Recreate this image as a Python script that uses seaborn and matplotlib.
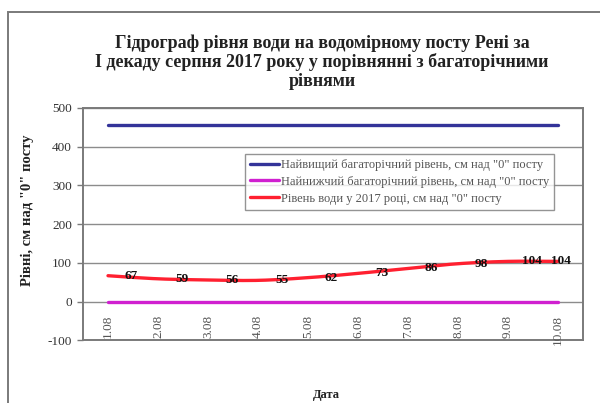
import numpy as np
import pandas as pd
import matplotlib
matplotlib.use("Agg")
import matplotlib.pyplot as plt
from matplotlib.patches import Rectangle
import seaborn as sns

# Dates of the first ten-day period of August
dates = ["1.08", "2.08", "3.08", "4.08", "5.08", "6.08", "7.08", "8.08", "9.08", "10.08"]
# Water level in 2017, cm above gauge zero
level_2017 = [67, 59, 56, 55, 62, 73, 86, 98, 104, 104]
# Long-term extremes, cm above gauge zero
level_max = [456] * 10
level_min = [-2] * 10

labels = [
    "Найвищий багаторічний рівень, см над \"0\" посту",
    "Найнижчий багаторічний рівень, см над \"0\" посту",
    "Рівень води у 2017 році, см над \"0\" посту",
]
title = ("Гідрограф рівня води на водомірному посту Рені за\n"
         "І декаду серпня 2017 року у порівнянні з багаторічними\n"
         "рівнями")

sns.set_theme(style="white")
plt.rcParams["font.family"] = ["Liberation Serif", "DejaVu Serif"]

x = np.arange(len(dates))


def catmull_rom(xs, ys, n=20):
    # smooth curve passing through every data point
    xs = np.asarray(xs, float)
    ys = np.asarray(ys, float)
    px = np.concatenate([[2 * xs[0] - xs[1]], xs, [2 * xs[-1] - xs[-2]]])
    py = np.concatenate([[2 * ys[0] - ys[1]], ys, [2 * ys[-1] - ys[-2]]])
    out_x, out_y = [], []
    for i in range(1, len(px) - 2):
        t = np.linspace(0, 1, n, endpoint=False)
        for arr, out in ((px, out_x), (py, out_y)):
            p0, p1, p2, p3 = arr[i - 1], arr[i], arr[i + 1], arr[i + 2]
            out.extend(0.5 * ((2 * p1) + (-p0 + p2) * t
                              + (2 * p0 - 5 * p1 + 4 * p2 - p3) * t ** 2
                              + (-p0 + 3 * p1 - 3 * p2 + p3) * t ** 3))
    out_x.append(xs[-1])
    out_y.append(ys[-1])
    return np.array(out_x), np.array(out_y)


fig = plt.figure(figsize=(6.0, 4.03), dpi=100)
fig.patch.set_facecolor("white")

# chart area frame
fig.add_artist(Rectangle((8 / 600, -0.05), 1.0, 1 - 12 / 403 + 0.05,
                         transform=fig.transFigure, fill=False,
                         edgecolor="#7a7a7a", linewidth=1.4))

ax = fig.add_axes([83 / 600, 1 - 340.4 / 403, 500 / 600, 232.4 / 403])
ax.set_facecolor("white")

for v in range(-100, 501, 100):
    ax.axhline(v, color="#8c8c8c", linewidth=1.0, zorder=0)

sns.lineplot(x=x, y=level_max, ax=ax, color="#333399", linewidth=2.4,
             label=labels[0], zorder=3)
sns.lineplot(x=x, y=level_min, ax=ax, color="#D020D0", linewidth=2.4,
             label=labels[1], zorder=3)
sx, sy = catmull_rom(x, level_2017)
sns.lineplot(x=sx, y=sy, ax=ax, color="#FF2030", linewidth=2.4,
             label=labels[2], zorder=4, sort=False)

for i, v in enumerate(level_2017):
    dx = 2 if i == len(level_2017) - 1 else 17
    ax.annotate(str(v), (x[i], v), xytext=(dx, 0), textcoords="offset points",
                ha="center", va="center", fontsize=9.5, fontweight="bold",
                color="#111111", zorder=5)

ax.set_xlim(-0.5, len(dates) - 0.5)
ax.set_ylim(-100, 500)
ax.set_yticks(range(-100, 501, 100))
ax.set_yticklabels([str(v) for v in range(-100, 501, 100)], fontsize=9.5,
                   color="#333333")
ax.tick_params(axis="y", direction="out", length=4, width=1, color="#7a7a7a",
               pad=4, left=True)
ax.set_xticks([])
for i, d in enumerate(dates):
    ax.text(x[i], -34, d, rotation=90, ha="center", va="top", fontsize=9.5,
            color="#555555", zorder=5)

for s in ax.spines.values():
    s.set_color("#7a7a7a")
    s.set_linewidth(1.4)

ax.set_xlabel("")
ax.set_ylabel("")
fig.text(27.5 / 600, 1 - 210 / 403, "Рівні, см над \"0\" посту", rotation=90,
         ha="center", va="center", fontsize=10.5, fontweight="bold",
         color="#222222")
fig.text(326 / 600, 1 - 395 / 403, "Дата", ha="center", va="center",
         fontsize=9, fontweight="bold", color="#222222")
fig.text(322 / 600, 1 - 62 / 403, title, ha="center", va="center",
         fontsize=13, fontweight="bold", color="#222222", linespacing=1.12)

leg = ax.legend(loc="upper left", bbox_to_anchor=(0.324, 0.802),
                borderaxespad=0, fontsize=9, frameon=True, fancybox=False,
                handlelength=2.3, handletextpad=0.15, labelspacing=0.38,
                borderpad=0.4)
leg.get_frame().set_edgecolor("#7a7a7a")
leg.get_frame().set_linewidth(1.0)
for t in leg.get_texts():
    t.set_color("#555555")

fig.savefig("out.png", dpi=100, facecolor="white")
